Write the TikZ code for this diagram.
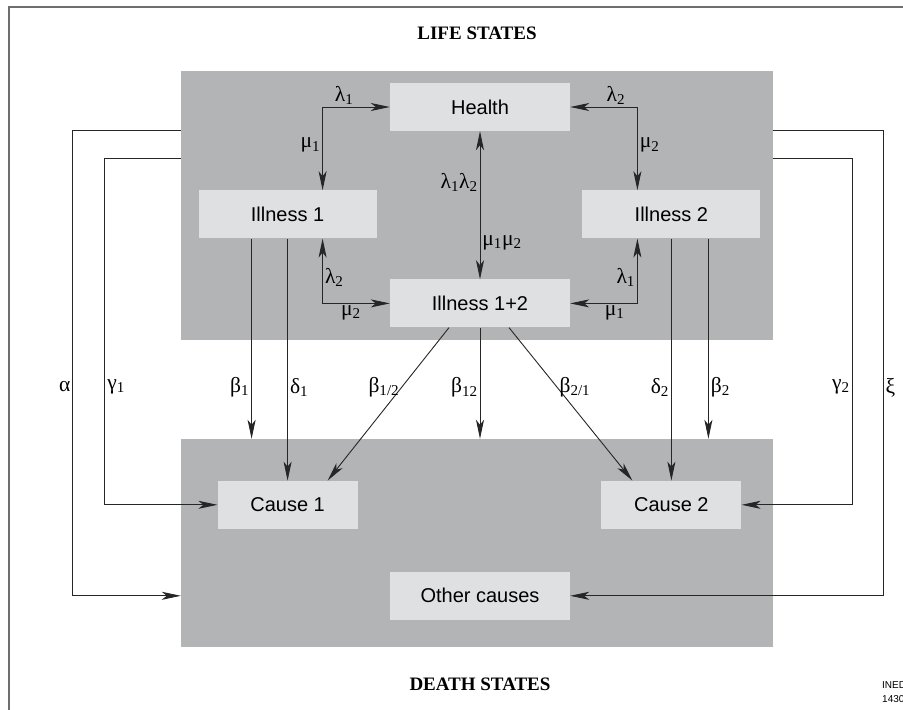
\documentclass[tikz,border=0pt]{standalone}
\usepackage{fontspec}
\setmainfont{Liberation Sans}
\newfontfamily\grk{Liberation Serif}
\usepackage{xcolor}
\usetikzlibrary{arrows.meta, positioning}

\definecolor{panelgray}{HTML}{B3B4B6}
\definecolor{boxgray}{HTML}{DFE0E2}
\definecolor{framegray}{HTML}{6E6E6E}

\begin{document}
\begin{tikzpicture}[
        x=1pt, y=-1pt,
        node distance=59pt and 13pt,
        panel/.style={rectangle, fill=panelgray, inner sep=0pt},
        state/.style={rectangle, fill=boxgray, minimum width=180pt, minimum height=48pt, inner sep=0pt, font=\fontsize{20}{24}\selectfont},
        rate/.style={font=\grk\fontsize{21.5}{25}\selectfont, inner sep=2pt},
        heading/.style={font=\grk\bfseries\fontsize{19}{23}\selectfont},
        arrow/.style={-{Stealth[length=19pt, width=8pt, inset=5pt]}, line width=0.9pt, draw=black!85},
        twoway/.style={{Stealth[length=19pt, width=8pt, inset=5pt]}-{Stealth[length=19pt, width=8pt, inset=5pt]}, line width=0.9pt, draw=black!85}
    ]
        \useasboundingbox (0,0) rectangle (903,710);
        \draw[framegray, line width=1.5pt] (9,712) -- (9,7) -- (905,7);

        \node[panel, minimum width=592pt, minimum height=269pt] (lifebox) at (477,205.5) {};
        \node[panel, minimum width=592pt, minimum height=208pt] (deathbox) at (477,543) {};
        \node[heading] (lifetitle) at (477,33) {LIFE STATES};
        \node[heading] (deathtitle) at (480,684) {DEATH STATES};

        \node[state] (health) at (480,107) {Health};
        \node[state, minimum width=178pt, below left=of health] (ill1) {Illness 1};
        \node[state, minimum width=178pt, below right=59pt and 12pt of health] (ill2) {Illness 2};
        \node[state, below=148pt of health] (both) {Illness 1+2};
        \node[state, minimum width=140pt, below=242pt of ill1] (cause1) {Cause 1};
        \node[state, minimum width=140pt, below=242pt of ill2] (cause2) {Cause 2};
        \node[state, below=244pt of both] (other) {Other causes};
        \node[font=\fontsize{10}{14}\selectfont, anchor=west, align=left, inner sep=0pt] (ined) at (882,692) {INED\\1430};

        % transitions between life states
        \draw[twoway] ([xshift=35pt]ill1.north) |- (health.west)
            node[rate, above, pos=0.66] (lam1a) {λ\textsubscript{1}}
            node[rate, left, pos=0.27] (mu1a) {μ\textsubscript{1}};
        \draw[twoway] ([xshift=35pt]ill1.south) |- (both.west)
            node[rate, right, pos=0.3] (lam2a) {λ\textsubscript{2}}
            node[rate, below, pos=0.71] (mu2a) {μ\textsubscript{2}};
        \draw[twoway] ([xshift=-34pt]ill2.north) |- (health.east)
            node[rate, above, pos=0.66] (lam2b) {λ\textsubscript{2}}
            node[rate, right, pos=0.27] (mu2b) {μ\textsubscript{2}};
        \draw[twoway] ([xshift=-34pt]ill2.south) |- (both.east)
            node[rate, left, pos=0.3] (lam1b) {λ\textsubscript{1}}
            node[rate, below, pos=0.67] (mu1b) {μ\textsubscript{1}};
        \draw[twoway] (health) -- (both)
            node[rate, left, pos=0.345] (lamlam) {λ\textsubscript{1}λ\textsubscript{2}}
            node[rate, right, pos=0.757] (mumu) {μ\textsubscript{1}μ\textsubscript{2}};

        % transitions to death states
        \draw[arrow] ([xshift=-36pt]ill1.south) -- ([xshift=-36pt]ill1.south |- deathbox.north)
            node[rate, left, pos=0.74] (beta1) {β\textsubscript{1}};
        \draw[arrow] (ill1.south) -- (cause1.north)
            node[rate, right, pos=0.616] (delta1) {δ\textsubscript{1}};
        \draw[arrow] ([xshift=-31pt]both.south) -- ([xshift=40pt]cause1.north)
            node[rate, left, pos=0.39] (beta1of2) {β\textsubscript{1/2}};
        \draw[arrow] (both.south) -- (both.south |- deathbox.north)
            node[rate, left, pos=0.54] (beta12) {β\textsubscript{12}};
        \draw[arrow] ([xshift=29pt]both.south) -- ([xshift=-39pt]cause2.north)
            node[rate, right, pos=0.39] (beta2of1) {β\textsubscript{2/1}};
        \draw[arrow] (ill2.south) -- (cause2.north)
            node[rate, left, pos=0.616] (delta2) {δ\textsubscript{2}};
        \draw[arrow] ([xshift=37pt]ill2.south) -- ([xshift=37pt]ill2.south |- deathbox.north)
            node[rate, right, pos=0.74] (beta2) {β\textsubscript{2}};

        % outer loops
        \draw[arrow] ([yshift=-60pt]lifebox.north west) -- ++(-108,0) |- (deathbox.west |- other)
            node[rate, left, pos=0.275] (alpha) {α};
        \draw[arrow] ([yshift=-88pt]lifebox.north west) -- ++(-76,0) |- (cause1.west)
            node[rate, right, pos=0.33] (gamma1) {γ\textsubscript{1}};
        \draw[arrow] ([yshift=-88pt]lifebox.north east) -- ++(79,0) |- (cause2.east)
            node[rate, left, pos=0.33] (gamma2) {γ\textsubscript{2}};
        \draw[arrow] ([yshift=-60pt]lifebox.north east) -- ++(110,0) |- (other.east)
            node[rate, right, pos=0.276] (xi) {ξ};
    \end{tikzpicture}
\end{document}
